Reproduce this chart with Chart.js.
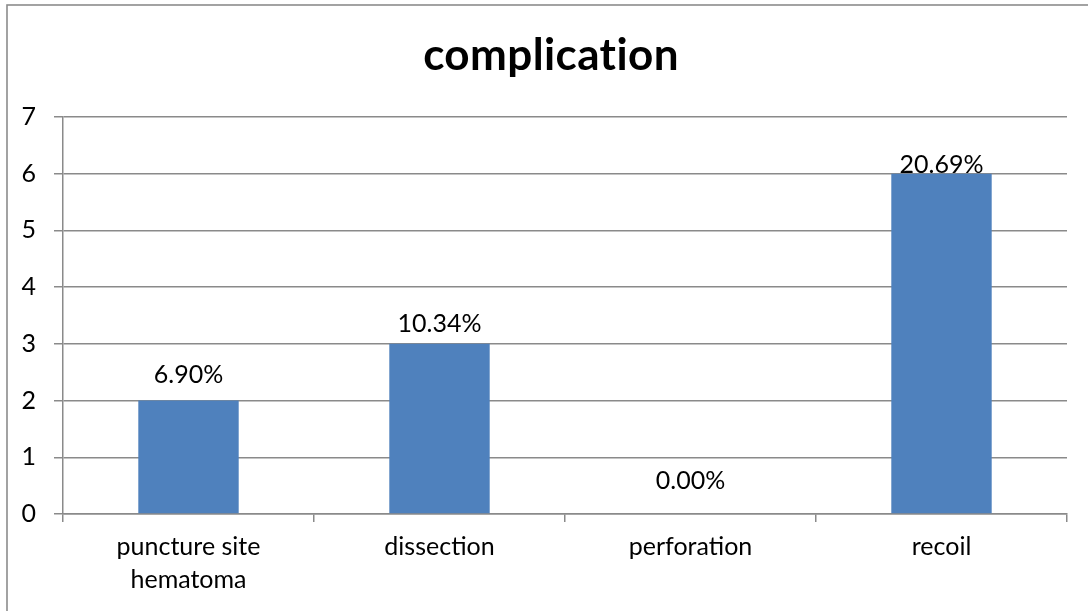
<!DOCTYPE html>
<html>
<head>
<meta charset="utf-8">
<script src="https://cdn.jsdelivr.net/npm/chart.js@4/dist/chart.umd.min.js"></script>
<style>
  html, body { margin: 0; padding: 0; background: #fff; overflow: hidden; }
  #wrap { position: relative; width: 1088px; height: 611px; }
</style>
</head>
<body>
<div id="wrap"><canvas id="c" width="1088" height="611"></canvas></div>
<script>
// Complication counts among 29 cases
const chartTitle = 'complication';
const categories = [['puncture site', 'hematoma'], 'dissection', 'perforation', 'recoil'];
const counts = [2, 3, 0, 6];
const totalCases = 29;
const yTickValues = [0, 1, 2, 3, 4, 5, 6, 7];

const FONT = 'Lato, "Open Sans", "Liberation Sans", sans-serif';
const GRID = '#8a8a8a';
const BAR = '#4f81bd';

// Percent labels derived from the counts
const percentLabels = counts.map(v => (v / totalCases * 100).toFixed(2) + '%');

const framePlugin = {
  id: 'frame',
  beforeDraw(chart) {
    const ctx = chart.ctx;
    ctx.save();
    ctx.fillStyle = '#fff';
    ctx.fillRect(0, 0, chart.width, chart.height);
    ctx.strokeStyle = '#8c8c8c';
    ctx.lineWidth = 1.6;
    ctx.strokeRect(7, 5, 1200, 1200);
    ctx.restore();
  }
};

const titlePlugin = {
  id: 'centerTitle',
  afterDraw(chart, args, opts) {
    const ctx = chart.ctx;
    ctx.save();
    ctx.fillStyle = '#000';
    ctx.font = 'bold ' + opts.size + 'px ' + FONT;
    if ('letterSpacing' in ctx) ctx.letterSpacing = opts.spacing;
    ctx.textAlign = 'center';
    ctx.textBaseline = 'alphabetic';
    ctx.fillText(opts.text, opts.x, opts.baseline);
    ctx.restore();
  }
};

const valueLabelPlugin = {
  id: 'valueLabels',
  afterDatasetsDraw(chart, args, opts) {
    const ctx = chart.ctx;
    const meta = chart.getDatasetMeta(0);
    ctx.save();
    ctx.fillStyle = '#000';
    ctx.font = opts.size + 'px ' + FONT;
    ctx.textAlign = 'center';
    ctx.textBaseline = 'alphabetic';
    meta.data.forEach((bar, i) => {
      ctx.fillText(percentLabels[i], bar.x, bar.y - opts.gaps[i]);
    });
    ctx.restore();
  }
};

new Chart(document.getElementById('c'), {
  type: 'bar',
  data: {
    labels: categories,
    datasets: [{
      data: counts,
      backgroundColor: BAR,
      borderWidth: 0,
      barPercentage: 0.4,
      categoryPercentage: 1.0
    }]
  },
  plugins: [framePlugin, titlePlugin, valueLabelPlugin],
  options: {
    responsive: false,
    animation: false,
    devicePixelRatio: 1,
    layout: { padding: { left: 0, right: 21, top: 117, bottom: 0 } },
    plugins: {
      legend: { display: false },
      tooltip: { enabled: false },
      title: { display: false },
      centerTitle: { text: chartTitle, size: 44, spacing: '0.4px', x: 551, baseline: 70 },
      valueLabels: { size: 25, gaps: [18, 12, 25, 1] }
    },
    scales: {
      x: {
        afterFit(s) { s.height = 97; },
        grid: {
          offset: true,
          drawOnChartArea: false,
          drawTicks: true,
          tickLength: 8,
          color: GRID,
          lineWidth: 1.5
        },
        border: { display: true, color: GRID, width: 1.5 },
        ticks: {
          color: '#000',
          font: { family: FONT, size: 25, lineHeight: 1.3 },
          padding: 9,
          maxRotation: 0,
          autoSkip: false
        }
      },
      y: {
        min: 0,
        max: 7,
        afterFit(s) { s.width = 63; },
        afterBuildTicks(s) { s.ticks = yTickValues.map(v => ({ value: v })); },
        grid: {
          drawTicks: true,
          tickLength: 9,
          color: GRID,
          lineWidth: 1.5
        },
        border: { display: true, color: GRID, width: 1.5 },
        ticks: {
          color: '#000',
          font: { family: FONT, size: 25 },
          padding: 18
        }
      }
    }
  }
});
</script>
</body>
</html>
